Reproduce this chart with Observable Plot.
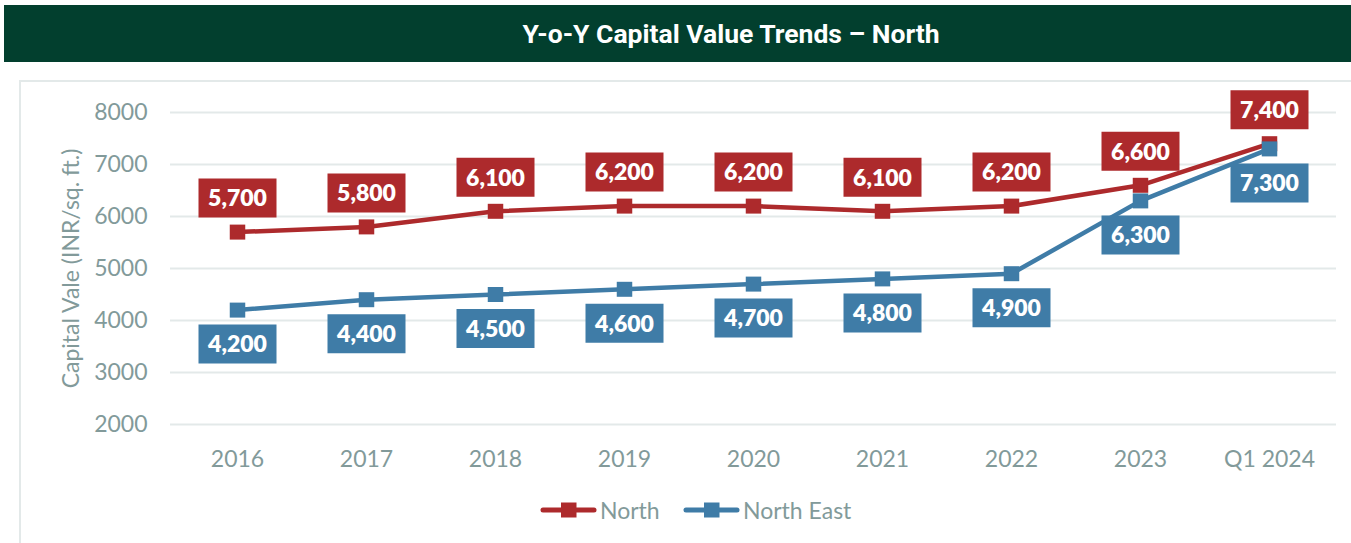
<!DOCTYPE html>
<html><head><meta charset="utf-8">
<script src="https://cdn.jsdelivr.net/npm/d3@7"></script>
<script src="https://cdn.jsdelivr.net/npm/@observablehq/plot@0.6"></script>
<style>
body{margin:0;background:#fff;font-family:Lato,"Open Sans",sans-serif;}
#wrap{position:relative;width:1351px;height:543px;overflow:hidden;}
#banner{position:absolute;left:4px;top:5px;width:1347px;height:57px;background:#023F2E;}
#title{position:absolute;left:731px;top:5px;height:57px;line-height:57px;transform:translateX(-50%);white-space:nowrap;color:#fff;font-weight:700;font-size:26.5px;font-family:Roboto,Lato,sans-serif;}
#frame{position:absolute;left:19px;top:80px;width:1400px;height:500px;border:2px solid #E3E9E9;box-sizing:border-box;}
#chart{position:absolute;left:0;top:81px;}
#legend{position:absolute;top:497px;left:0;width:1351px;height:26px;}
.item{position:absolute;top:0;height:26px;display:flex;align-items:center;color:#829A9A;font-size:23px;font-weight:400;}
.item svg{margin-right:3px;}
</style></head>
<body><div id="wrap">
<div id="frame"></div>
<div id="banner"></div>
<div id="title">Y-o-Y Capital Value Trends – North</div>
<div id="chart"></div>
<div id="legend"></div>
</div>
<script>
const years = ["2016","2017","2018","2019","2020","2021","2022","2023","Q1 2024"];
const northValues = [5700,5800,6100,6200,6200,6100,6200,6600,7400];
const northEastValues = [4200,4400,4500,4600,4700,4800,4900,6300,7300];
const seriesNames = ["North","North East"];
const seriesColors = ["#AD2A2C","#3F7CA7"];
const yTicks = [2000,3000,4000,5000,6000,7000,8000];
const yLabel = "Capital Vale (INR/sq. ft.)";

const north = years.map((y,i)=>({year:y, value:northValues[i], series:"North"}));
const ne = years.map((y,i)=>({year:y, value:northEastValues[i], series:"North East"}));

const squareMarker = {draw(ctx){ ctx.rect(-7.75,-7.5,15.5,15); }};
const labelBox = {draw(ctx){ ctx.rect(-39,-19.5,78,39); }};
const fmt = d3.format(",");
const gray = "#829A9A";

const chart = Plot.plot({
  width: 1351,
  height: 462,
  marginLeft: 170,
  marginRight: 15,
  marginTop: 31,
  marginBottom: 119,
  style: {background: "transparent", fontFamily: "Lato, sans-serif", overflow: "visible"},
  x: {type: "point", domain: years, padding: 0.5},
  y: {domain: [2000, 8000]},
  color: {domain: seriesNames, range: seriesColors},
  marks: [
    Plot.ruleY(yTicks, {stroke: "#E3E9E9", strokeWidth: 2}),
    Plot.axisY({ticks: yTicks, tickSize: 0, tickPadding: 23, tickFormat: d => String(d), label: null, fontSize: 23, fontWeight: 400, fill: gray}),
    Plot.axisX({tickSize: 0, tickPadding: 26, label: null, fontSize: 23, fontWeight: 400, fill: gray}),
    Plot.text([yLabel], {frameAnchor: "left", textAnchor: "middle", text: d => d, rotate: -90, dx: -99, fontSize: 23, fontWeight: 400, fill: gray}),
    Plot.line(north, {x: "year", y: "value", stroke: "series", strokeWidth: 4.5}),
    Plot.dot(north, {x: "year", y: "value", fill: "series", symbol: squareMarker, r: 8}),
    Plot.line(ne, {x: "year", y: "value", stroke: "series", strokeWidth: 4.5}),
    Plot.dot(ne, {x: "year", y: "value", fill: "series", symbol: squareMarker, r: 8}),
    Plot.dot(north, {x: "year", y: "value", fill: "series", symbol: labelBox, r: 8, dy: -34}),
    Plot.text(north, {x: "year", y: "value", text: d => fmt(d.value), dy: -33, fill: "white", fontSize: 23, fontWeight: 800}),
    Plot.dot(ne, {x: "year", y: "value", fill: "series", symbol: labelBox, r: 8, dy: 34}),
    Plot.text(ne, {x: "year", y: "value", text: d => fmt(d.value), dy: 35, fill: "white", fontSize: 23, fontWeight: 800})
  ]
});
document.getElementById("chart").appendChild(chart);

// legend
const legend = document.getElementById("legend");
const legendLeft = [540, 683];
seriesNames.forEach((name, i) => {
  const item = document.createElement("div");
  item.className = "item";
  item.style.left = legendLeft[i] + "px";
  const c = seriesColors[i];
  item.innerHTML = `<svg width="57" height="26"><line x1="3" x2="54" y1="13" y2="13" stroke="${c}" stroke-width="5" stroke-linecap="round"/><rect x="21" y="5.5" width="15.5" height="15" fill="${c}"/></svg><span>${name}</span>`;
  legend.appendChild(item);
});
</script>
</body></html>
